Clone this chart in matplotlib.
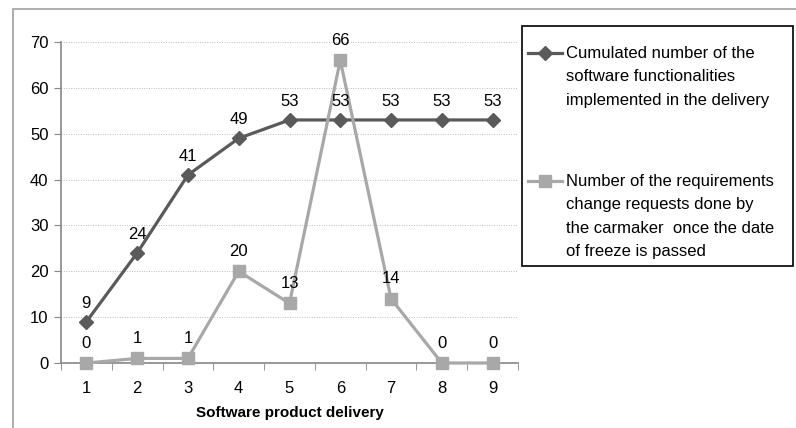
import matplotlib.pyplot as plt
from matplotlib.lines import Line2D
from matplotlib.patches import Rectangle

plt.rcParams['font.family'] = ['Liberation Sans', 'DejaVu Sans']
plt.rcParams['font.size'] = 12

# data
deliveries = [1, 2, 3, 4, 5, 6, 7, 8, 9]
functionalities = [9, 24, 41, 49, 53, 53, 53, 53, 53]
change_requests = [0, 1, 1, 20, 13, 66, 14, 0, 0]
label_func = ("Cumulated number of the\nsoftware functionalities\n"
              "implemented in the delivery")
label_req = ("Number of the requirements\nchange requests done by\n"
             "the carmaker  once the date\nof freeze is passed")

dark = '#5a5a5a'
light = '#a8a8a8'
axis_grey = '#868686'

fig = plt.figure(figsize=(7.96, 4.28), dpi=100)
W, H = 796, 428

# outer chart border
fig.add_artist(Rectangle((13 / W, -0.1), 1.0, 1 - 9 / H + 0.1, transform=fig.transFigure,
                         fill=False, edgecolor='#a0a0a0', linewidth=1.2))

ax = fig.add_axes([61 / W, 1 - 363 / H, (518 - 61) / W, (363 - 42) / H])
ax.set_xlim(0.5, 9.5)
ax.set_ylim(0, 70)

ax.plot(deliveries, functionalities, color=dark, lw=2.3, marker='D', ms=7, zorder=3, clip_on=False)
ax.plot(deliveries, change_requests, color=light, lw=2.3, marker='s', ms=9, zorder=4, clip_on=False)

# data labels sit above the lines
for x, y in zip(deliveries, functionalities):
    ax.annotate(str(y), (x, y), xytext=(0, 8), textcoords='offset points',
                ha='center', va='bottom', zorder=6)
for x, y in zip(deliveries, change_requests):
    ax.annotate(str(y), (x, y), xytext=(0, 9), textcoords='offset points',
                ha='center', va='bottom', zorder=6)

ax.set_yticks(range(0, 71, 10))
ax.set_xticks(deliveries)
ax.set_xticks([i + 0.5 for i in range(0, 10)], minor=True)
ax.tick_params(axis='x', which='major', length=0, pad=13)
ax.tick_params(axis='x', which='minor', length=5, direction='out', color=axis_grey)
ax.tick_params(axis='y', length=5, direction='out', color=axis_grey, pad=4)
ax.grid(axis='y', color='#bdbdbd', linestyle=(0, (1, 1.5)), linewidth=0.7)
ax.set_axisbelow(True)
for side in ['top', 'right']:
    ax.spines[side].set_visible(False)
for side in ['left', 'bottom']:
    ax.spines[side].set_color(axis_grey)
    ax.spines[side].set_linewidth(1.2)
ax.set_xlabel('Software product delivery', fontweight='bold', fontsize=11, labelpad=7)

# legend drawn by hand (Excel style)
fig.add_artist(Rectangle((522 / W, 1 - 266 / H), (793 - 522) / W, (266 - 26) / H,
                         transform=fig.transFigure, facecolor='white',
                         edgecolor='black', linewidth=1.2, zorder=5))
for yy, col, mk, ms, txt in [(53, dark, 'D', 7, label_func), (181, light, 's', 9, label_req)]:
    fig.add_artist(Line2D([528 / W, 562 / W], [1 - yy / H, 1 - yy / H], transform=fig.transFigure,
                          color=col, lw=2.3, zorder=6))
    fig.add_artist(Line2D([545 / W], [1 - yy / H], transform=fig.transFigure, color=col,
                          marker=mk, ms=ms, zorder=7))
    fig.text(566 / W, 1 - (yy - 7) / H, txt, ha='left', va='top', fontsize=12,
             linespacing=1.7, zorder=7)

fig.savefig('out.png', dpi=100)
